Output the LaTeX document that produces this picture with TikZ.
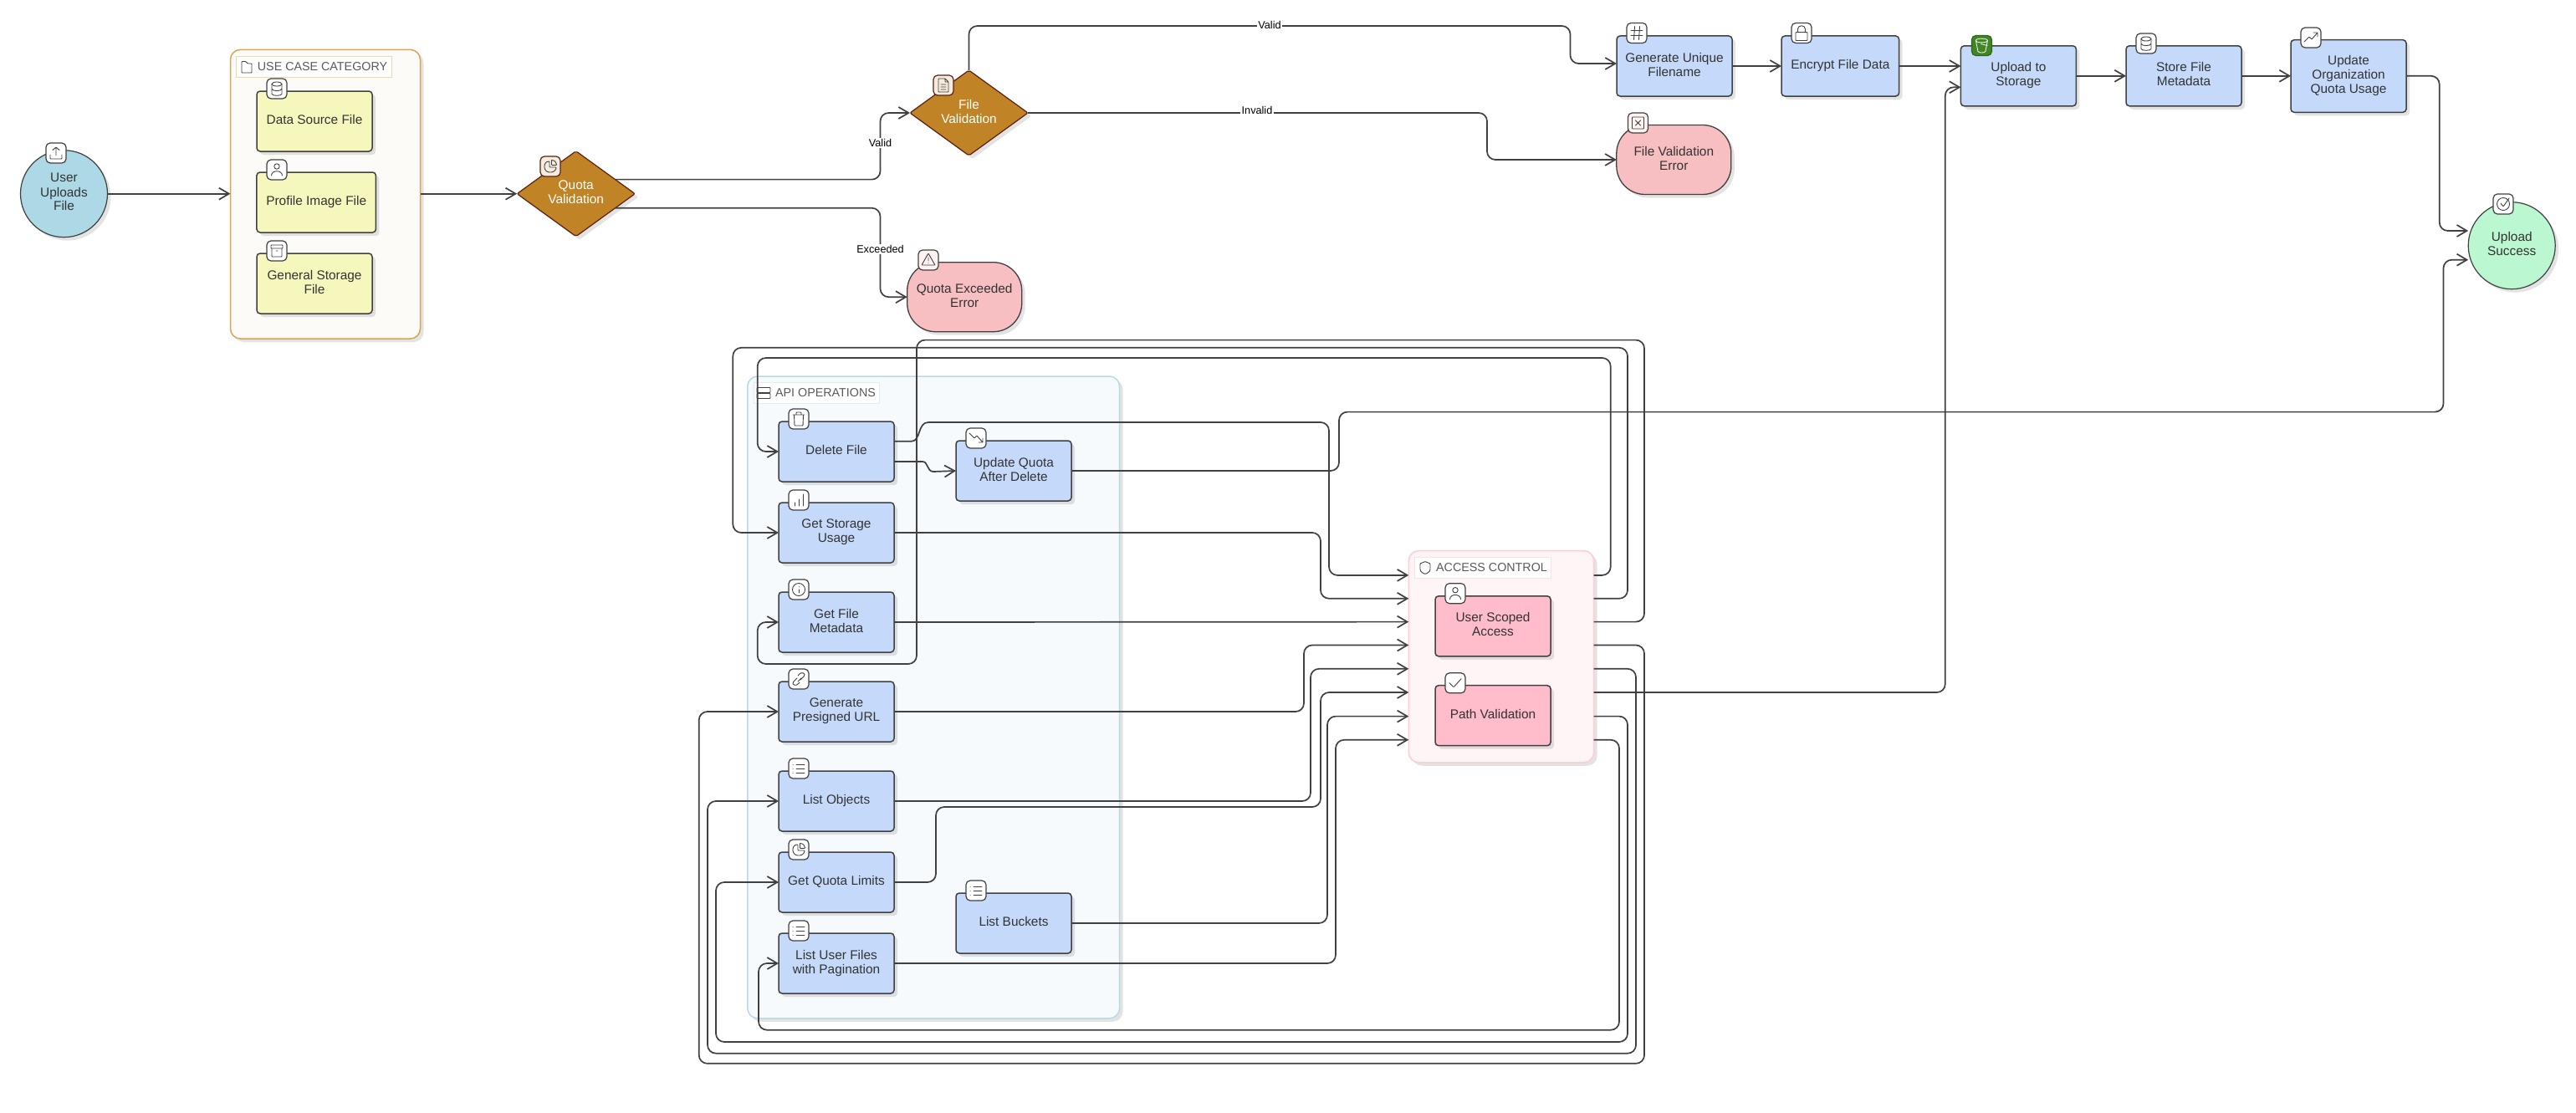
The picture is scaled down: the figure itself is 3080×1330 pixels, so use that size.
\documentclass[tikz,border=0pt]{standalone}
\usepackage{fontspec}
\setmainfont{Liberation Sans}
\usetikzlibrary{shapes.geometric}
\usetikzlibrary{arrows.meta}
\usetikzlibrary{shadows}

\definecolor{lineCol}{HTML}{404040}
\definecolor{textCol}{HTML}{333333}
\definecolor{blueFill}{HTML}{C5DAFA}
\definecolor{yellowFill}{HTML}{F6F7BD}
\definecolor{startFill}{HTML}{ADD8E6}
\definecolor{endFill}{HTML}{BBF7D0}
\definecolor{errFill}{HTML}{F8BFC2}
\definecolor{pinkFill}{HTML}{FFBCCB}
\definecolor{goldFill}{HTML}{C08325}
\definecolor{goldLine}{HTML}{5C1F10}
\definecolor{s3Fill}{HTML}{3F8624}
\definecolor{catLine}{HTML}{D9A557}
\definecolor{catFill}{HTML}{FCFBF7}
\definecolor{apiLine}{HTML}{B7DAE6}
\definecolor{apiFill}{HTML}{F6FAFD}
\definecolor{accLine}{HTML}{FFCBD5}
\definecolor{accFill}{HTML}{FFF5F7}

% Small icons on the tags
\tikzset{
	glyph/.style={draw=lineCol,line width=0.9pt,rounded corners=0.8pt,line cap=round,line join=round},
	icoUpload/.pic={\draw[glyph] (0,-7)--(0,3) (-4,-3.5)--(0,-7)--(4,-3.5) (-7,2)--(-7,7)--(7,7)--(7,2);},
	icoData/.pic={\draw[glyph] (0,-5.5) ellipse (6 and 2.5);
		\draw[glyph] (-6,-5.5)--(-6,5.5) .. controls (-6,9) and (6,9) .. (6,5.5)--(6,-5.5) (-6,0) .. controls (-6,3.5) and (6,3.5) .. (6,0);},
	icoUser/.pic={\draw[glyph] (0,-4) circle (3.2);
		\draw[glyph] (-6.5,7) .. controls (-6.5,0) and (6.5,0) .. (6.5,7);},
	icoBox/.pic={\draw[glyph] (-7,-7) rectangle (7,-3) (-6,-3)--(-6,7)--(6,7)--(6,-3) (-1,0)--(1,0);},
	icoPie/.pic={\draw[glyph] (-1,-6) .. controls (-9,-6) and (-9,7) .. (0,7) .. controls (5,7) and (7,3) .. (7,1)--(-1,1)--cycle;
		\draw[glyph] (1.5,-7.5)--(1.5,-1.5)--(7.5,-1.5) .. controls (7.5,-5) and (5,-7.5) .. (1.5,-7.5);},
	icoFile/.pic={\draw[glyph] (-6,-8)--(2,-8)--(6,-4)--(6,8)--(-6,8)--cycle (2,-8)--(2,-4)--(6,-4) (-3,-1)--(3,-1) (-3,2)--(3,2) (-3,5)--(3,5);},
	icoWarn/.pic={\draw[glyph] (0,-8)--(8,6)--(-8,6)--cycle (0,-3)--(0,1) (0,3.5)--(0,3.6);},
	icoCross/.pic={\draw[glyph] (-7,-7) rectangle (7,7) (-3,-3)--(3,3) (3,-3)--(-3,3);},
	icoHash/.pic={\draw[glyph] (-2.5,-8)--(-3.5,8) (3.5,-8)--(2.5,8) (-7,-3)--(7,-3) (-7,3)--(7,3);},
	icoLock/.pic={\draw[glyph] (-7,-1) rectangle (7,9) (-4.5,-1)--(-4.5,-4) .. controls (-4.5,-10) and (4.5,-10) .. (4.5,-4)--(4.5,-1);},
	icoBucket/.pic={\draw[white,line width=0.8pt] (0,-6) ellipse (7 and 2.4) (-7,-6)--(-4.5,7) .. controls (-3,9) and (3,9) .. (4.5,7)--(7,-6) (-1,-2)--(7,0);},
	icoUp/.pic={\draw[glyph] (-8,5)--(-2,-1)--(1,2)--(8,-6) (3,-6)--(8,-6)--(8,-1);},
	icoDown/.pic={\draw[glyph] (-8,-6)--(-2,0)--(1,-3)--(8,5) (3,5)--(8,5)--(8,0);},
	icoOk/.pic={\draw[glyph] (0,0) circle (7.5); \draw[glyph] (-3,-1)--(0,3)--(7,-7);},
	icoTrash/.pic={\draw[glyph] (-7,-5)--(7,-5) (-3,-5)--(-3,-8)--(3,-8)--(3,-5) (-5.5,-5)--(-5,8)--(5,8)--(5.5,-5);},
	icoBars/.pic={\draw[glyph] (-5,7)--(-5,3) (0,7)--(0,-1) (5,7)--(5,-7);},
	icoInfo/.pic={\draw[glyph] (0,0) circle (7.5); \draw[glyph] (0,0)--(0,4) (0,-3)--(0,-3.1);},
	icoLink/.pic={\draw[glyph,rotate=0] (-1,3)--(3,-1) (-2,-1) -- (-6,3) .. controls (-9,7) and (-3,9) .. (0,5)--(1,4) (2,1)--(6,-3) .. controls (9,-7) and (3,-9) .. (0,-5)--(-1,-4);},
	icoList/.pic={\draw[glyph] (-3,-5)--(7,-5) (-3,0)--(7,0) (-3,5)--(7,5) (-7,-5)--(-6.9,-5) (-7,0)--(-6.9,0) (-7,5)--(-6.9,5);},
	icoServer/.pic={\draw[glyph] (-8,-6.5) rectangle (8,-0.5) (-8,0.5) rectangle (8,6.5);},
	icoShield/.pic={\draw[glyph] (0,-7.5)--(6,-5)--(6,1) .. controls (6,5) and (2,6.5) .. (0,7.5) .. controls (-2,6.5) and (-6,5) .. (-6,1)--(-6,-5)--cycle;},
	icoTick/.pic={\draw[glyph] (-7,0)--(-2,5)--(7,-5);},
	icoFolder/.pic={\draw[glyph] (-6,-6.5)--(-1,-6.5)--(1,-4)--(6,-4)--(6,7)--(-6,7)--cycle;},
}

\begin{document}
\begin{tikzpicture}[x=1pt,y=-1pt,>={Straight Barb[length=12pt,width=14pt]},
		every node/.style={font=\fontsize{15.4}{17}\selectfont,text=textCol,align=center,inner sep=0pt,outer sep=0pt,text depth=4pt},
		soft/.style={drop shadow={shadow xshift=4pt,shadow yshift=-4pt,opacity=0.11,fill=black}},
		step box/.style={rectangle,draw=lineCol,line width=1.5pt,rounded corners=4pt,soft},
		proc/.style={step box,fill=blueFill,minimum width=138pt,minimum height=72pt},
		usecase/.style={step box,fill=yellowFill,minimum width=138pt,minimum height=72pt},
		guard/.style={step box,fill=pinkFill,minimum width=138pt,minimum height=72pt},
		fail/.style={step box,line width=1.3pt,fill=errFill,rounded corners=34pt,minimum width=137pt,minimum height=83pt},
		ball/.style={circle,draw=lineCol,line width=1.2pt,minimum size=104pt,soft},
		choice/.style={diamond,aspect=1.38,draw=goldLine,line width=1.2pt,fill=goldFill,rounded corners=2pt,minimum width=141pt,minimum height=102pt,text=white,soft},
		tag/.style={rectangle,draw=lineCol,fill=white,line width=1.2pt,rounded corners=5pt,minimum width=24pt,minimum height=24pt},
		goldTag/.style={tag,draw=goldLine,fill=goldFill!15!white},
		errTag/.style={tag,fill=errFill!20!white},
		frame/.style={rectangle,line width=1.5pt,rounded corners=12pt,soft},
		title/.style={rectangle,line width=0.6pt,font=\fontsize{14.3}{16}\selectfont,text=black!65,text depth=0pt},
		link/.style={draw=lineCol,line width=1.7pt,rounded corners=10pt},
		guard label/.style={fill=white,inner xsep=1.5pt,inner ysep=1pt,font=\fontsize{12.7}{14}\selectfont,text=black,text depth=0pt}
		]
	\useasboundingbox (0,0) rectangle (3080,1330);

	% Frames
	% ----------------------
	\node[frame,draw=catLine,fill=catFill,minimum width=227pt,minimum height=345.7pt] (Category) at (389,232.2) {};
	\node[frame,draw=apiLine,fill=apiFill,minimum width=444.7pt,minimum height=767.7pt] (Api) at (1116.2,833.9) {};
	\node[frame,draw=accLine,fill=accFill,minimum width=221.4pt,minimum height=253.1pt] (Access) at (1795,785.2) {};

	\node[title,draw=catLine!45!white,fill=white,minimum width=186pt,minimum height=25.4pt] (CategoryTitle) at (375,80) {\hspace*{21pt}USE CASE CATEGORY};
	\node[title,draw=apiLine!45!white,fill=white,minimum width=150pt,minimum height=25pt] (ApiTitle) at (976.5,469.8) {\hspace*{21pt}API OPERATIONS};
	\node[title,draw=accLine!60!white,fill=white,minimum width=162.6pt,minimum height=24.8pt] (AccessTitle) at (1773,678.9) {\hspace*{21pt}ACCESS CONTROL};
	\pic at (295,80) {icoFolder};
	\pic at (913,470) {icoServer};
	\pic at (1704,679) {icoShield};

	% Upload flow
	% ----------------------
	\node[ball,fill=startFill] (User) at (76.5,231.7) {User\\Uploads\\File};
	\node[usecase] (DataSrc) at (376,145) {Data Source File};
	\node[usecase,minimum width=142.5pt] (Profile) at (378.2,242) {Profile Image File};
	\node[usecase] (General) at (376,339) {General Storage\\File};
	\node[choice] (Quota) at (688.7,231.7) {Quota\\Validation};
	\node[choice] (FileVal) at (1158.5,135) {File\\Validation};
	\node[fail] (QuotaErr) at (1153.2,355.2) {Quota Exceeded\\Error};
	\node[fail] (FileErr) at (2001.3,191) {File Validation\\Error};
	\node[proc] (GenName) at (2002,79) {Generate Unique\\Filename};
	\node[proc,minimum width=140.6pt] (Encrypt) at (2200.3,79) {Encrypt File Data};
	\node[proc] (Upload) at (2413.4,90.8) {Upload to\\Storage};
	\node[proc] (Store) at (2611,90.8) {Store File\\Metadata};
	\node[proc,minimum height=86.6pt] (OrgUsage) at (2808,91) {Update\\Organization\\Quota Usage};
	\node[ball,fill=endFill] (Success) at (3003.2,293.7) {Upload\\Success};

	% API operations
	% ----------------------
	\node[proc] (Delete) at (1000,540) {Delete File};
	\node[proc] (Storage) at (1000,637) {Get Storage\\Usage};
	\node[proc] (Meta) at (1000,744) {Get File\\Metadata};
	\node[proc] (Presigned) at (1000,851) {Generate\\Presigned URL};
	\node[proc] (Objects) at (1000,958) {List Objects};
	\node[proc] (Limits) at (1000,1055) {Get Quota Limits};
	\node[proc] (UserFiles) at (1000,1152) {List User Files\\with Pagination};
	\node[proc] (UpdQuota) at (1212,563) {Update Quota\\After Delete};
	\node[proc] (Buckets) at (1212,1104) {List Buckets};

	% Access control
	% ----------------------
	\node[guard] (Scoped) at (1785,748.8) {User Scoped\\Access};
	\node[guard] (PathVal) at (1785,855.7) {Path Validation};

	% Ports on the sides of the access frame
	\foreach \name/\y in {A/687.9,B/715.8,C/743.6,D/771.5,E/799.8,F/828,G/856.6,H/884.8} {
		\coordinate (in\name) at (Access.west |- 0,\y);
		\coordinate (out\name) at (Access.east |- 0,\y);
	}

	% Connectors
	% ----------------------
	\draw[link,->] (User.east) -- (Category.west |- User.east);
	\draw[link,->] (Category.east |- User.east) -- (Quota.west);
	\draw[link,->] (Quota.20) -| (1052.5,135) -- (FileVal.west);
	\draw[link,->] (Quota.-20) -| (1052.5,355.2) -- (QuotaErr.west);
	\draw[link,->] (FileVal.north) |- (1877.5,31) |- (GenName.west |- 0,76);
	\draw[link,->] (FileVal.east) -| (1778,191) -- (FileErr.west);
	\draw[link,->] (GenName.east) -- (Encrypt.west);
	\draw[link,->] (Encrypt.east) -- (Upload.west |- Encrypt.east);
	\draw[link,->] (Upload.east) -- (Store.west);
	\draw[link,->] (Store.east) -- (OrgUsage.west |- Store.east);
	\draw[link,->] (OrgUsage.east |- Store.east) -| (2916.7,276) -- (Success.west |- 0,276);
	\draw[link,->] (UpdQuota.east) -| (1601,492.6) -| (2921.5,310.7) -- (Success.west |- 0,310.7);
	\draw[link,->] (outF) -| (2325.8,104.3) -- (Upload.west |- 0,104.3);

	% into the access frame
	\draw[link,sharp corners,->] (Delete.east |- 0,527.7) -- (1090,527.7) .. controls (1101,527.7) and (1097,505) .. (1110,505) [rounded corners=10pt] -| (1589,687.9) -- (inA);
	\draw[link,sharp corners,->] (Delete.east |- 0,552) -- (1103,552) .. controls (1110,552) and (1108,564) .. (1116,564) -- (UpdQuota.west);
	\draw[link,->] (Storage.east) -| (1579,715.8) -- (inB);
	\draw[link,->] (Meta.east) -- (inC);
	\draw[link,->] (Presigned.east) -| (1559,771.5) -- (inD);
	\draw[link,->] (Objects.east) -| (1567,799.8) -- (inE);
	\draw[link,->] (Limits.east) -| (1119,965) -| (1579,828) -- (inF);
	\draw[link,->] (Buckets.east) -| (1587,856.6) -- (inG);
	\draw[link,->] (UserFiles.east) -| (1597,884.8) -- (inH);

	% back out of the access frame
	\draw[link,->] (outA) -| (1925.7,428) -| (905.7,540) -- (Delete.west);
	\draw[link,->] (outB) -| (1946,415.8) -| (876.3,637) -- (Storage.west);
	\draw[link,->] (outC) -| (1966,406.6) -| (1096,794) -| (905.7,744) -- (Meta.west);
	\draw[link,->] (outD) -| (1966,1271.8) -| (835.7,851) -- (Presigned.west);
	\draw[link,->] (outE) -| (1956,1259.7) -| (846,958) -- (Objects.west);
	\draw[link,->] (outG) -| (1946,1246) -| (856,1055) -- (Limits.west);
	\draw[link,->] (outH) -| (1936,1231.7) -| (907,1152) -- (UserFiles.west);

	% Guards on the lines
	\node[guard label] (lblValid) at (1052.5,171) {Valid};
	\node[guard label] (lblExceeded) at (1052.5,298) {Exceeded};
	\node[guard label] (lblGo) at (1518,29.5) {Valid};
	\node[guard label] (lblInvalid) at (1503,132) {Invalid};

	% Tags
	% ----------------------
	\node[tag] (tagUser) at (67,183) {}; \pic at (tagUser) {icoUpload};
	\node[tag] (tagDataSrc) at (331,106) {}; \pic at (tagDataSrc) {icoData};
	\node[tag] (tagProfile) at (331,203) {}; \pic at (tagProfile) {icoUser};
	\node[tag] (tagGeneral) at (331,300) {}; \pic at (tagGeneral) {icoBox};
	\node[goldTag] (tagQuota) at (658,199) {}; \pic at (tagQuota) {icoPie};
	\node[goldTag] (tagFileVal) at (1128,102) {}; \pic at (tagFileVal) {icoFile};
	\node[errTag] (tagQuotaErr) at (1110,311) {}; \pic at (tagQuotaErr) {icoWarn};
	\node[errTag] (tagFileErr) at (1958.5,147) {}; \pic at (tagFileErr) {icoCross};
	\node[tag] (tagGenName) at (1957,39.5) {}; \pic at (tagGenName) {icoHash};
	\node[tag] (tagEncrypt) at (2154,39.5) {}; \pic at (tagEncrypt) {icoLock};
	\node[tag,draw=s3Fill!75!black,fill=s3Fill] (tagUpload) at (2369.4,54.5) {}; \pic at (tagUpload) {icoBucket};
	\node[tag] (tagStore) at (2566,52) {}; \pic at (tagStore) {icoData};
	\node[tag] (tagOrg) at (2763,45) {}; \pic at (tagOrg) {icoUp};
	\node[tag] (tagSuccess) at (2993,244) {}; \pic at (tagSuccess) {icoOk};
	\node[tag] (tagDelete) at (955,501) {}; \pic at (tagDelete) {icoTrash};
	\node[tag] (tagStorage) at (955,598) {}; \pic at (tagStorage) {icoBars};
	\node[tag] (tagMeta) at (955,705) {}; \pic at (tagMeta) {icoInfo};
	\node[tag] (tagPresigned) at (955,812) {}; \pic at (tagPresigned) {icoLink};
	\node[tag] (tagObjects) at (955,919) {}; \pic at (tagObjects) {icoList};
	\node[tag] (tagLimits) at (955,1016) {}; \pic at (tagLimits) {icoPie};
	\node[tag] (tagUserFiles) at (955,1113) {}; \pic at (tagUserFiles) {icoList};
	\node[tag] (tagUpdQuota) at (1167,524) {}; \pic at (tagUpdQuota) {icoDown};
	\node[tag] (tagBuckets) at (1167,1065) {}; \pic at (tagBuckets) {icoList};
	\node[tag] (tagScoped) at (1740,709.7) {}; \pic at (tagScoped) {icoUser};
	\node[tag] (tagPathVal) at (1740,816.8) {}; \pic at (tagPathVal) {icoTick};
\end{tikzpicture}
\end{document}
